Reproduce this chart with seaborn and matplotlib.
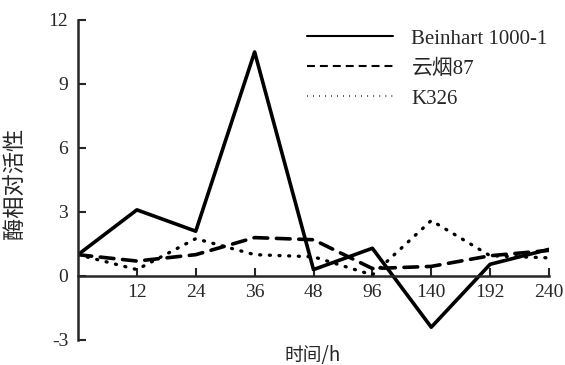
import pandas as pd
import numpy as np
import matplotlib
matplotlib.use("Agg")
import matplotlib.pyplot as plt
import seaborn as sns

# sampling times (h) and relative enzyme activity per variety
times = [0, 12, 24, 36, 48, 96, 140, 192, 240]
beinhart = [1.0, 3.1, 2.1, 10.5, 0.3, 1.3, -2.4, 0.55, 1.25]
yunyan87 = [1.0, 0.7, 1.0, 1.8, 1.7, 0.35, 0.45, 0.95, 1.2]
k326 = [1.0, 0.3, 1.75, 1.0, 0.9, 0.05, 2.6, 0.95, 0.85]
varieties = ["Beinhart 1000-1", "云烟87", "K326"]

df = pd.DataFrame({
    "pos": list(range(len(times))) * 3,
    "value": beinhart + yunyan87 + k326,
    "variety": [v for v in varieties for _ in times],
})

sns.set_style("ticks")
fam = ["Liberation Serif", "Noto Sans CJK SC"]
plt.rcParams["font.family"] = fam
plt.rcParams["font.size"] = 15
plt.rcParams["axes.unicode_minus"] = False

fig = plt.figure(figsize=(5.65, 3.65), dpi=100)
ax = fig.add_axes([78 / 565, 25 / 365, 471 / 565, 320 / 365])

sns.lineplot(data=df, x="pos", y="value", hue="variety", style="variety",
             hue_order=varieties, style_order=varieties,
             palette=["black"] * 3,
             dashes={"Beinhart 1000-1": "", "云烟87": (3.8, 2.4), "K326": (0.3, 2.6)},
             ax=ax)
for ln, lw in zip(ax.lines, [2.6, 2.6, 2.4]):
    ln.set_linewidth(lw)
    ln.set_dash_capstyle("round")

ax.set_xlim(0, 8)
ax.set_ylim(-3, 12)
ax.set_yticks([-3, 0, 3, 6, 9, 12])
ax.set_xticks(range(1, len(times)))
ax.set_xticklabels([str(t) for t in times[1:]])

ax.spines["top"].set_visible(False)
ax.spines["right"].set_visible(False)
ax.spines["bottom"].set_position(("data", 0))
ax.spines["left"].set_linewidth(1.8)
ax.spines["bottom"].set_linewidth(1.8)
ax.tick_params(direction="in", length=5.5, width=1.5, labelsize=14)
ax.tick_params(axis="x", pad=6)
ax.tick_params(axis="y", pad=7)

ax.set_xlabel("")
ax.set_ylabel("酶相对活性", fontsize=16, family=["Noto Sans CJK SC"])
ax.yaxis.set_label_coords(-51 / 471, 0.49)
fig.text(313 / 565, 10 / 365, "时间/h", ha="center", va="center", fontsize=13.5,
         family=["Noto Sans CJK SC", "Liberation Serif"])

leg = ax.legend(loc="upper right", bbox_to_anchor=(1.037, 1.03), frameon=False,
                handlelength=4.1, handletextpad=0.9, labelspacing=0.5, fontsize=15)
for h in leg.get_lines():
    h.set_color("black")

fig.savefig("out.png", dpi=100)
